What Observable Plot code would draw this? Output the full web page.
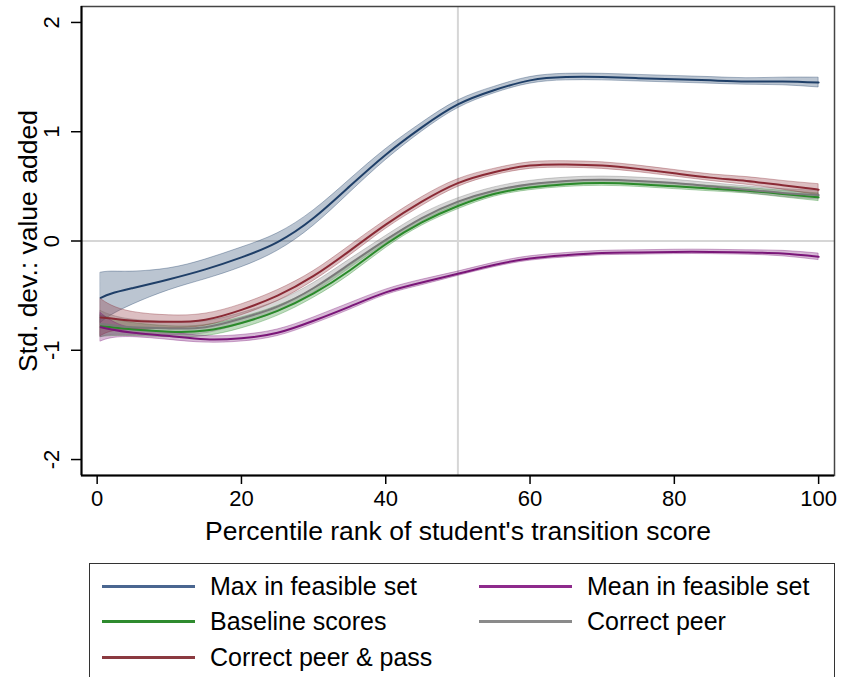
<!DOCTYPE html>
<html><head><meta charset="utf-8">
<script src="https://cdn.jsdelivr.net/npm/d3@7"></script>
<script src="https://cdn.jsdelivr.net/npm/@observablehq/plot@0.6"></script>
<style>
body{margin:0;background:#fff;font-family:"Liberation Sans",Arial,sans-serif;}
#wrap{position:relative;width:841px;height:677px;overflow:hidden;background:#fff;}
#legend{position:absolute;left:89px;top:563px;width:746px;height:140px;border:1.5px solid #333;box-sizing:border-box;}
.item{position:absolute;height:30px;display:flex;align-items:center;font-size:25px;color:#000;white-space:nowrap;}
.sw{display:inline-block;width:93px;height:3px;margin-right:15px;}
</style></head>
<body><div id="wrap"><div id="chart"></div><div id="legend"></div></div>
<script>
const pct = [0.5, 2, 5, 10, 15, 20, 25, 30, 35, 40, 45, 50, 55, 60, 65, 70, 75, 80, 85, 90, 95, 100];
const seriesNames = ["Max in feasible set", "Mean in feasible set", "Baseline scores", "Correct peer", "Correct peer & pass"];
const seriesColors = ["#1f3f68", "#7a1678", "#2a8a2a", "#7a7a7a", "#8a2a35"];
const legendColors = ["#4a6690", "#8e2a8c", "#2e8b2e", "#8a8a8a", "#8b3a40"];
const maxFeasible = [-0.52, -0.48, -0.43, -0.35, -0.26, -0.15, -0.01, 0.21, 0.50, 0.79, 1.04, 1.25, 1.38, 1.47, 1.50, 1.50, 1.49, 1.48, 1.47, 1.46, 1.46, 1.45];
const maxCI = [0.23, 0.20, 0.15, 0.10, 0.09, 0.09, 0.08, 0.07, 0.06, 0.05, 0.04, 0.035, 0.03, 0.03, 0.03, 0.03, 0.03, 0.03, 0.03, 0.03, 0.035, 0.045];
const meanFeasible = [-0.79, -0.81, -0.84, -0.87, -0.90, -0.89, -0.84, -0.73, -0.60, -0.47, -0.38, -0.30, -0.22, -0.16, -0.13, -0.11, -0.105, -0.10, -0.10, -0.105, -0.115, -0.145];
const meanCI = [0.13, 0.08, 0.04, 0.035, 0.03, 0.03, 0.03, 0.03, 0.03, 0.025, 0.025, 0.02, 0.02, 0.02, 0.02, 0.02, 0.02, 0.02, 0.02, 0.02, 0.025, 0.03];
const baseline = [-0.78, -0.79, -0.81, -0.83, -0.82, -0.75, -0.64, -0.48, -0.27, -0.03, 0.17, 0.32, 0.43, 0.49, 0.52, 0.53, 0.52, 0.50, 0.48, 0.46, 0.43, 0.40];
const baselineCI = [0.10, 0.08, 0.06, 0.05, 0.05, 0.05, 0.045, 0.04, 0.04, 0.035, 0.03, 0.03, 0.025, 0.025, 0.025, 0.025, 0.025, 0.025, 0.025, 0.025, 0.03, 0.035];
const correctPeer = [-0.76, -0.77, -0.79, -0.80, -0.79, -0.71, -0.60, -0.43, -0.21, 0.01, 0.21, 0.36, 0.46, 0.52, 0.55, 0.56, 0.55, 0.53, 0.50, 0.47, 0.44, 0.42];
const correctPeerCI = [0.12, 0.09, 0.07, 0.06, 0.055, 0.05, 0.05, 0.045, 0.04, 0.035, 0.035, 0.03, 0.03, 0.03, 0.03, 0.03, 0.03, 0.03, 0.03, 0.03, 0.035, 0.04];
const correctPeerPass = [-0.70, -0.71, -0.73, -0.74, -0.72, -0.63, -0.50, -0.32, -0.09, 0.15, 0.36, 0.53, 0.63, 0.69, 0.70, 0.69, 0.66, 0.62, 0.58, 0.55, 0.51, 0.47];
const correctPeerPassCI = [0.17, 0.12, 0.08, 0.06, 0.055, 0.05, 0.05, 0.045, 0.045, 0.04, 0.04, 0.035, 0.03, 0.03, 0.03, 0.03, 0.03, 0.03, 0.03, 0.035, 0.04, 0.05];
const xTicks = [0, 20, 40, 60, 80, 100];
const yTicks = [-2, -1, 0, 1, 2];
const xTitle = "Percentile rank of student's transition score";
const yTitle = "Std. dev.: value added";

const values = [maxFeasible, meanFeasible, baseline, correctPeer, correctPeerPass];
const cis = [maxCI, meanCI, baselineCI, correctPeerCI, correctPeerPassCI];
const rows = [];
seriesNames.forEach((s, i) => pct.forEach((p, j) => rows.push({series: s, p, v: values[i][j], lo: values[i][j] - cis[i][j], hi: values[i][j] + cis[i][j]})));
const drawOrder = [0, 2, 3, 4, 1];
const marks = [
  Plot.ruleX([50], {stroke: "#d6d6d6", strokeWidth: 2}),
  Plot.ruleY([0], {stroke: "#d6d6d6", strokeWidth: 2}),
];
for (const i of drawOrder) {
  const d = rows.filter(r => r.series === seriesNames[i]);
  marks.push(Plot.areaY(d, {x: "p", y1: "lo", y2: "hi", fill: seriesColors[i], fillOpacity: 0.3, stroke: seriesColors[i], strokeOpacity: 0.35, strokeWidth: 1, curve: "natural"}));
}
for (const i of drawOrder) {
  const d = rows.filter(r => r.series === seriesNames[i]);
  marks.push(Plot.line(d, {x: "p", y: "v", stroke: seriesColors[i], strokeWidth: 2, curve: "natural"}));
}
const hyphen = d => String(d);
marks.push(
  Plot.frame({stroke: "#444", strokeWidth: 1.5}),
  Plot.ruleX([-2.17], {stroke: "#000", strokeWidth: 2}),
  Plot.ruleY([-2.146], {stroke: "#000", strokeWidth: 2}),
  Plot.axisX({ticks: xTicks, tickFormat: hyphen, tickSize: 9, tickPadding: 6, fontSize: 22, label: null, stroke: "#000", strokeWidth: 1.5}),
  Plot.axisY({ticks: yTicks, tickFormat: hyphen, tickSize: 10, tickPadding: 13, fontSize: 22, tickRotate: -90, label: null, stroke: "#000", strokeWidth: 1.5}),
  Plot.text([xTitle], {frameAnchor: "bottom", dy: 56, fontSize: 26.5, textAnchor: "middle", lineAnchor: "middle"}),
  Plot.text([yTitle], {frameAnchor: "left", dx: -53, rotate: -90, fontSize: 26.5, textAnchor: "middle", lineAnchor: "middle"})
);
const chart = Plot.plot({
  width: 841, height: 560,
  marginLeft: 81, marginRight: 7, marginTop: 6, marginBottom: 85,
  x: {domain: [-2.17, 102.2]},
  y: {domain: [-2.146, 2.146]},
  style: {fontFamily: "Liberation Sans, Arial, sans-serif", color: "#000", background: "#fff"},
  marks
});
document.getElementById("chart").appendChild(chart);
const legendOrder = [0, 1, 2, 3, 4];
const pos = [[12, 7], [389, 7], [12, 42], [389, 42], [12, 78]];
const lg = document.getElementById("legend");
legendOrder.forEach((i, k) => {
  const it = document.createElement("div");
  it.className = "item";
  it.style.left = pos[k][0] + "px";
  it.style.top = pos[k][1] + "px";
  const sw = document.createElement("span");
  sw.className = "sw";
  sw.style.background = legendColors[i];
  it.appendChild(sw);
  it.appendChild(document.createTextNode(seriesNames[i]));
  lg.appendChild(it);
});
</script></body></html>
